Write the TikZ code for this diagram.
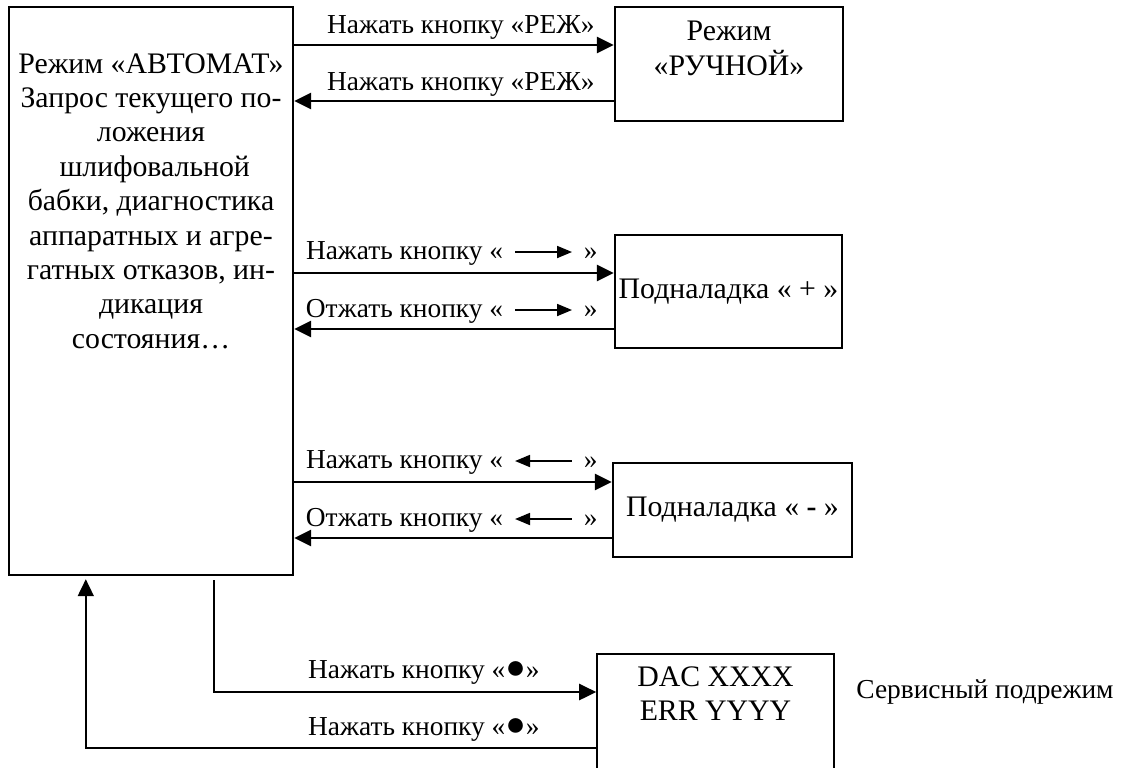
\documentclass[tikz,border=0pt]{standalone}
\usepackage{fontspec}
\setmainfont{Liberation Serif}
\usetikzlibrary{arrows.meta}

% small arrows and dot inside the button labels
\newcommand{\rarr}{\hspace{0.4em}\tikz[baseline=-3.5pt,x=1pt,y=1pt]\draw[line width=0.9pt,-{Triangle[length=7.5pt,width=6pt]}] (0,0) -- (28.5,0);\hspace{0.4em}}
\newcommand{\larr}{\hspace{0.4em}\tikz[baseline=-3.5pt,x=1pt,y=1pt]\draw[line width=0.9pt,{Triangle[length=7.5pt,width=6pt]}-] (0,0) -- (28.5,0);\hspace{0.4em}}
\newcommand{\bdot}{{\fontsize{17}{17}\selectfont ●}}

\begin{document}
\begin{tikzpicture}[x=0.5pt,y=-0.5pt,
    box/.style={draw,line width=1.2pt,inner sep=0},
    boxtext/.style={font=\fontsize{14.9}{17.2}\selectfont,align=center,inner sep=0},
    lbl/.style={font=\fontsize{13.7}{16}\selectfont,inner sep=0},
    conn/.style={line width=1.3pt,-{Triangle[length=8.5pt,width=8pt]}}]
    \useasboundingbox (0,0) rectangle (1124,767);

    \node[box,minimum width=142pt,minimum height=284pt] (auto) at (151,291) {};
    \node[boxtext,anchor=north] (autotext) at (151,53) {Режим «АВТОМАТ»\\Запрос текущего по-\\ложения\\\ шлифовальной\\бабки, диагностика\\аппаратных и агре-\\гатных отказов, ин-\\дикация\\состояния…};

    \node[box,minimum width=114pt,minimum height=57pt] (manual) at (729,64) {};
    \node[boxtext,anchor=north] (manualtext) at (729,21) {Режим\\«РУЧНОЙ»};

    \node[box,boxtext,minimum width=113.5pt,minimum height=56.5pt] (plus) at (728.5,291.5) {Подналадка « + »};
    \node[box,boxtext,minimum width=119.5pt,minimum height=47pt] (minus) at (732.5,510) {Подналадка « \textbf{-} »};

    \node[box,line width=0.8pt,minimum width=118.5pt,minimum height=60pt] (service) at (715.5,714) {};
    \node[boxtext,anchor=north] (servicetext) at (715.5,666) {DAC XXXX\\ERR YYYY};
    \node[lbl,anchor=west] (servicemode) at (856,692) {Сервисный подрежим};

    % РЕЖ
    \draw[conn] (auto.east |- 0,45) -- (manual.west |- 0,45);
    \draw[conn] (manual.west |- 0,101) -- (auto.east |- 0,101);
    \node[lbl,anchor=base east] (l1) at (595,33) {Нажать кнопку «РЕЖ»};
    \node[lbl,anchor=base east] (l2) at (595,90) {Нажать кнопку «РЕЖ»};

    % plus
    \draw[conn] (auto.east |- 0,273) -- (plus.west |- 0,273);
    \draw[conn] (plus.west |- 0,329) -- (auto.east |- 0,329);
    \node[lbl,anchor=base east] (l3) at (598,259) {Нажать кнопку «\rarr»};
    \node[lbl,anchor=base east] (l4) at (598,317) {Отжать кнопку «\rarr»};

    % minus
    \draw[conn] (auto.east |- 0,482) -- (minus.west |- 0,482);
    \draw[conn] (minus.west |- 0,538) -- (auto.east |- 0,538);
    \node[lbl,anchor=base east] (l5) at (598,468) {Нажать кнопку «\larr»};
    \node[lbl,anchor=base east] (l6) at (598,526) {Отжать кнопку «\larr»};

    % service
    \draw[conn] ([shift={(206,4)}]auto.south west) |- (service.west |- 0,692);
    \draw[conn,line width=0.9pt] (service.west |- 0,748) -| ([shift={(78,3)}]auto.south west);
    \node[lbl,anchor=base east] (l7) at (540,678) {Нажать кнопку «\bdot»};
    \node[lbl,anchor=base east] (l8) at (540,735) {Нажать кнопку «\bdot»};
\end{tikzpicture}
\end{document}
